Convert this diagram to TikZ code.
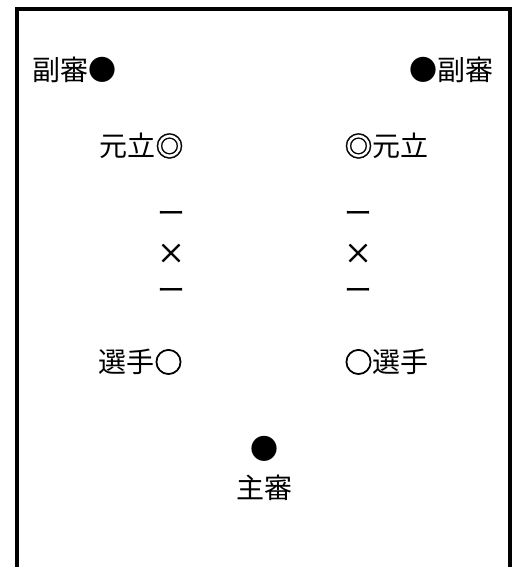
\documentclass[tikz,border=0pt]{standalone}
\usepackage{fontspec}
\setmainfont{Noto Sans CJK JP}
\newfontfamily\symheavy[FakeBold=2.5]{Noto Sans CJK JP}
\newfontfamily\symmid[FakeBold=1.2]{Noto Sans CJK JP}
\begin{document}
\begin{tikzpicture}[x=1pt,y=-1pt,
  lbl/.style={inner sep=0pt,text height=24.6pt,text depth=3.4pt,
    font=\fontsize{28}{30}\selectfont}]
\useasboundingbox (0,0) rectangle (518,567);
\draw[line width=4pt] (17,567) -- (17,9) -- (510,9) -- (510,567);
\node[lbl] (fl) at (74.5,70) {副審●};
\node[lbl] (fr) at (451.5,70) {●副審};
\node[lbl] (ml) at (141.5,146) {元立{\symmid ◎}};
\node[lbl] (mr) at (386.5,146) {{\symmid ◎}元立};
\node[lbl] (d1l) at (171,213) {ー};
\node[lbl] (xl) at (171,253) {\symmid ×};
\node[lbl] (d2l) at (171,290) {ー};
\node[lbl] (d1r) at (358,213) {ー};
\node[lbl] (xr) at (358,253) {\symmid ×};
\node[lbl] (d2r) at (358,290) {ー};
\node[lbl] (pl) at (140.5,362) {選手{\symheavy ○}};
\node[lbl] (pr) at (386.5,362) {{\symheavy ○}選手};
\node[lbl] (sd) at (264,449) {●};
\node[lbl] (sh) at (264,488) {主審};
\end{tikzpicture}
\end{document}
